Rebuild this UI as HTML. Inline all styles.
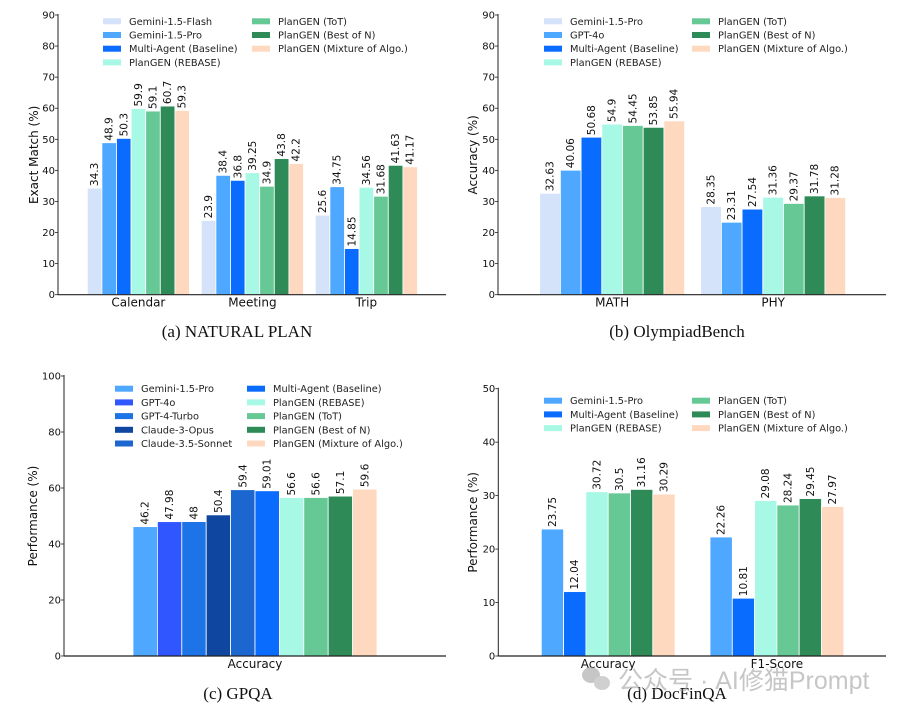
<!DOCTYPE html>
<html><head><meta charset="utf-8"><style>
html,body{margin:0;padding:0;background:#fff;}
svg{display:block;font-family:"DejaVu Sans","Liberation Sans",sans-serif;}
</style></head><body>
<svg id="root" width="908" height="714" viewBox="0 0 908 714" xmlns="http://www.w3.org/2000/svg"></svg>
<script>
const NS="http://www.w3.org/2000/svg";
const root=document.getElementById('root');
// ---- data ----
const aCategories=["Calendar","Meeting","Trip"];
const aSeries=["Gemini-1.5-Flash","Gemini-1.5-Pro","Multi-Agent (Baseline)","PlanGEN (REBASE)","PlanGEN (ToT)","PlanGEN (Best of N)","PlanGEN (Mixture of Algo.)"];
const aValues=[[34.3,23.9,25.6],[48.9,38.4,34.75],[50.3,36.8,14.85],[59.9,39.25,34.56],[59.1,34.9,31.68],[60.7,43.8,41.63],[59.3,42.2,41.17]];
const aLabels=[["34.3","23.9","25.6"],["48.9","38.4","34.75"],["50.3","36.8","14.85"],["59.9","39.25","34.56"],["59.1","34.9","31.68"],["60.7","43.8","41.63"],["59.3","42.2","41.17"]];
const aTicks=[0,10,20,30,40,50,60,70,80,90];

const bCategories=["MATH","PHY"];
const bSeries=["Gemini-1.5-Pro","GPT-4o","Multi-Agent (Baseline)","PlanGEN (REBASE)","PlanGEN (ToT)","PlanGEN (Best of N)","PlanGEN (Mixture of Algo.)"];
const bValues=[[32.63,28.35],[40.06,23.31],[50.68,27.54],[54.9,31.36],[54.45,29.37],[53.85,31.78],[55.94,31.28]];
const bLabels=[["32.63","28.35"],["40.06","23.31"],["50.68","27.54"],["54.9","31.36"],["54.45","29.37"],["53.85","31.78"],["55.94","31.28"]];
const bTicks=[0,10,20,30,40,50,60,70,80,90];

const cCategories=["Accuracy"];
const cSeries=["Gemini-1.5-Pro","GPT-4o","GPT-4-Turbo","Claude-3-Opus","Claude-3.5-Sonnet","Multi-Agent (Baseline)","PlanGEN (REBASE)","PlanGEN (ToT)","PlanGEN (Best of N)","PlanGEN (Mixture of Algo.)"];
const cValues=[[46.2],[47.98],[48],[50.4],[59.4],[59.01],[56.6],[56.6],[57.1],[59.6]];
const cLabels=[["46.2"],["47.98"],["48"],["50.4"],["59.4"],["59.01"],["56.6"],["56.6"],["57.1"],["59.6"]];
const cTicks=[0,20,40,60,80,100];

const dCategories=["Accuracy","F1-Score"];
const dSeries=["Gemini-1.5-Pro","Multi-Agent (Baseline)","PlanGEN (REBASE)","PlanGEN (ToT)","PlanGEN (Best of N)","PlanGEN (Mixture of Algo.)"];
const dValues=[[23.75,22.26],[12.04,10.81],[30.72,29.08],[30.5,28.24],[31.16,29.45],[30.29,27.97]];
const dLabels=[["23.75","22.26"],["12.04","10.81"],["30.72","29.08"],["30.5","28.24"],["31.16","29.45"],["30.29","27.97"]];
const dTicks=[0,10,20,30,40,50];

function el(tag,attrs,parent,text){const e=document.createElementNS(NS,tag);for(const k in attrs)e.setAttribute(k,attrs[k]);if(text!==undefined)e.textContent=text;(parent||root).appendChild(e);return e;}

function drawChart(cfg){
  const g=el('g',{});
  
  
  const ymax=cfg.ticks[cfg.ticks.length-1];
  const yS=v=>cfg.y0-(cfg.y0-cfg.yTop)*v/ymax;
  cfg.cats.forEach((cat,ci)=>{
    const gx=cfg.firstX+ci*cfg.groupStep;
    cfg.values.forEach((vals,si)=>{
      const x=gx+si*cfg.bw, y=yS(vals[ci]);
      const r=el('rect',{x:x,y:y,width:cfg.bw,height:cfg.y0-y,fill:cfg.colors[si],stroke:'#fff','stroke-width':0.8},g);
      
      
      const cx=x+cfg.bw/2+3.5, ty=y-2;
      const t=el('text',{x:cx,y:ty,transform:`rotate(-90 ${cx} ${ty})`,'font-size':10.5,fill:'#111'},g,cfg.labels[si][ci]);
      
      
    });
    const lx=gx+cfg.bw*cfg.values.length/2;
    const ct=el('text',{x:lx,y:cfg.y0+12,'text-anchor':'middle','font-size':12,fill:'#111'},g,cat);
    
    
  });
  const ya=el('line',{x1:cfg.ax,y1:cfg.yTop-1,x2:cfg.ax,y2:cfg.y0,stroke:'#222','stroke-width':1},g);
  
  
  const xa=el('line',{x1:cfg.ax,y1:cfg.y0,x2:cfg.axEnd,y2:cfg.y0,stroke:'#222','stroke-width':1.2},g);
  
  
  cfg.ticks.forEach(tv=>{
    const y=yS(tv);
    el('line',{x1:cfg.ax-3,y1:y,x2:cfg.ax,y2:y,stroke:'#222','stroke-width':0.8},g);
    const t=el('text',{x:cfg.ax-3,y:y+3.5,'text-anchor':'end','font-size':10,fill:'#111'},g,String(tv));
    
    
  });
  const ymid=(cfg.y0+cfg.yTop)/2;
  const yt=el('text',{x:cfg.ytX,y:ymid,transform:`rotate(-90 ${cfg.ytX} ${ymid})`,'text-anchor':'middle','font-size':12,fill:'#111'},g,cfg.ytitle);
  
  
  cfg.series.forEach((s,si)=>{
    const col=si<cfg.legRows?0:1, row=si<cfg.legRows?si:si-cfg.legRows;
    const px=col?cfg.leg2X:cfg.leg1X, y=cfg.legY+row*cfg.legStep;
    const lg=el('g',{},g);
    
    
    el('rect',{x:px,y:y-3,width:18,height:6,fill:cfg.colors[si]},lg);
    el('text',{x:px+26,y:y+3.5,'font-size':9.8,fill:'#222'},lg,s);
  });
  const cap=el('text',{x:cfg.capX,y:cfg.capY,'text-anchor':'middle','font-size':17,fill:'#111','font-family':'"Liberation Serif",serif'},g,cfg.caption);
  
  
}
const FL='#d4e2fa',PRO='#4fa8ff',MA='#0a6cff',RB='#a8f8e6',TOT='#66c895',BON='#2e8b57',MIX='#ffd8c0';
drawChart({name:'chart-natural-plan',cats:aCategories,series:aSeries,values:aValues,labels:aLabels,ticks:aTicks,
  colors:[FL,PRO,MA,RB,TOT,BON,MIX],y0:294.7,yTop:15,ax:58,axEnd:446,firstX:87.3,groupStep:114,bw:14.6,
  ytitle:'Exact Match (%)',ytX:38,leg1X:103,leg2X:252,legY:21.3,legStep:13.7,legRows:4,caption:'(a) NATURAL PLAN',capX:237,capY:337});
drawChart({name:'chart-olympiadbench',cats:bCategories,series:bSeries,values:bValues,labels:bLabels,ticks:bTicks,
  colors:[FL,PRO,MA,RB,TOT,BON,MIX],y0:294.7,yTop:15,ax:498,axEnd:886,firstX:539.7,groupStep:161,bw:20.7,
  ytitle:'Accuracy (%)',ytX:477,leg1X:544,leg2X:692,legY:21.3,legStep:13.7,legRows:4,caption:'(b) OlympiadBench',capX:677,capY:337});
drawChart({name:'chart-gpqa',cats:cCategories,series:cSeries,values:cValues,labels:cLabels,ticks:cTicks,
  colors:[PRO,'#2f56ff','#1c74e6','#0f47a0','#1c66d0',MA,RB,TOT,BON,MIX],y0:656,yTop:376,ax:64,axEnd:446,firstX:133,groupStep:0,bw:24.4,
  ytitle:'Performance (%)',ytX:37,leg1X:115,leg2X:247,legY:388.7,legStep:13.7,legRows:5,caption:'(c) GPQA',capX:238,capY:699});
drawChart({name:'chart-docfinqa',cats:dCategories,series:dSeries,values:dValues,labels:dLabels,ticks:dTicks,
  colors:[PRO,MA,RB,TOT,BON,MIX],y0:656,yTop:388.7,ax:498.3,axEnd:886,firstX:541.3,groupStep:168.7,bw:22.3,
  ytitle:'Performance (%)',ytX:477,leg1X:544,leg2X:692,legY:400.7,legStep:13.7,legRows:3,caption:'(d) DocFinQA',capX:677,capY:699});
const wm=el('g',{opacity:0.55});


el('ellipse',{cx:591,cy:675,rx:9,ry:8,fill:'#999'},wm);
el('ellipse',{cx:602,cy:683,rx:8,ry:7,fill:'#aaa'},wm);
el('text',{x:618,y:689,'font-size':25,fill:'#999','font-family':'"Liberation Sans","Noto Sans CJK SC",sans-serif'},wm,'公众号 · AI修猫Prompt');
</script>
</body></html>
